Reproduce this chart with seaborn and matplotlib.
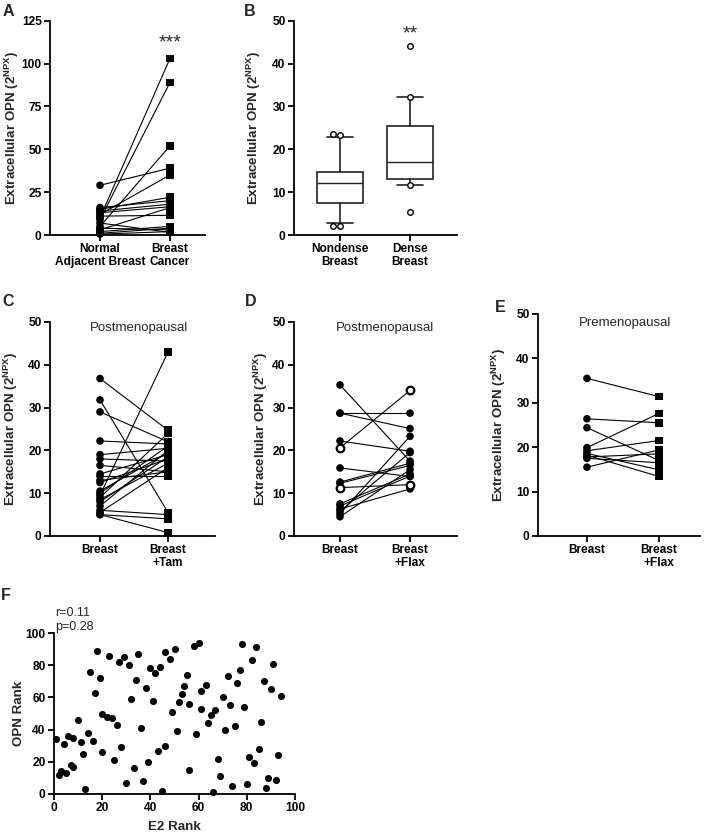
import numpy as np
import pandas as pd
import matplotlib
matplotlib.use("Agg")
import matplotlib.pyplot as plt
import seaborn as sns

# ---------------- data ----------------
# Panel A: paired Normal adjacent breast vs breast cancer
a_groups = ["Normal\nAdjacent Breast", "Breast\nCancer"]
a_normal = [10, 9, 5, 29, 12, 15, 16, 14, 13, 3, 11, 2, 1, 4, 0.5, 7]
a_cancer = [103, 89, 52, 39, 35, 22, 20, 18, 16.5, 16, 11.5, 5, 4, 3, 2, 1.5]

# Panel B: box plot (Prism 10-90 percentile whiskers)
b_groups = ["Nondense\nBreast", "Dense\nBreast"]
b_med = [12.2, 17.0]
b_q1 = [7.5, 13.0]
b_q3 = [14.6, 25.4]
b_whislo = [2.7, 11.7]
b_whishi = [22.8, 32.3]
b_out_nondense = [23.5, 23.3, 2.2, 2.2]
b_out_dense = [44.0, 32.3, 11.7, 5.4]

# Panel C: Postmenopausal Breast vs Breast + Tam
c_groups = ["Breast", "Breast\n+Tam"]
c_breast = [36.8, 31.8, 29, 22.2, 19, 18, 16.5, 14.5, 14, 13, 12.5, 10.5, 10, 9.5, 9, 8.5, 8, 7, 6, 5.5, 5, 5]
c_tam = [24.7, 5.5, 22, 21.5, 20.5, 17.5, 15, 19, 14, 15, 18, 19.5, 21, 43, 24, 17, 18.5, 20, 5, 16, 4, 0.8]

# Panel D: Postmenopausal Breast vs Breast + Flax (open = highlighted subjects)
d_groups = ["Breast", "Breast\n+Flax"]
d_breast = [35.3, 28.7, 28.7, 22.2, 20.6, 15.9, 12.6, 12.3, 11.3, 7.5, 7.0, 6.3, 5.8, 5.2, 4.5]
d_flax = [17.5, 28.7, 25.1, 19.8, 34.0, 13.9, 17.0, 16.5, 12.0, 14.5, 14.0, 11.0, 19.5, 23.3, 15.5]
d_open = [False, False, False, False, True, False, False, False, True, False, False, False, False, False, False]

# Panel E: Premenopausal Breast vs Breast + Flax
e_groups = ["Breast", "Breast\n+Flax"]
e_breast = [35.5, 26.4, 24.4, 19.9, 19.2, 18.6, 18.2, 17.8, 17.5, 15.5]
e_flax = [31.4, 25.5, 17.0, 27.6, 21.5, 14.9, 13.4, 18.5, 16.5, 19.4]

# Panel F: rank correlation
f_e2 = [1, 2, 3, 4, 5, 6, 7, 8, 8, 10, 11, 12, 13, 14, 15, 16, 17, 18, 19, 20, 20, 22, 23, 24, 25,
        26, 27, 28, 29, 30, 31, 32, 33, 34, 35, 36, 37, 38, 39, 40, 41, 42, 43, 44, 45, 46, 46, 48,
        49, 50, 51, 52, 53, 54, 55, 56, 56, 58, 59, 60, 61, 61, 63, 64, 65, 66, 67, 68, 69, 70, 71,
        72, 73, 74, 75, 76, 77, 78, 79, 80, 81, 82, 83, 84, 85, 86, 87, 88, 89, 90, 91, 92, 93, 94]
f_opn = [34, 12, 14, 31, 13, 36, 18, 17, 35, 46, 32, 25, 3, 38, 76, 33, 63, 89, 72, 50, 26, 48, 86,
         47, 21, 43, 82, 29, 85, 7, 80, 59, 16, 71, 87, 41, 8, 66, 20, 78, 58, 75, 27, 79, 2, 88, 30,
         84, 51, 90, 39, 57, 62, 67, 74, 56, 15, 92, 37, 94, 53, 64, 68, 44, 49, 1, 52, 22, 11, 60,
         40, 73, 55, 5, 42, 69, 77, 93, 54, 6, 23, 83, 19, 91, 28, 45, 70, 4, 10, 65, 81, 9, 24, 61]
f_stats = "r=0.11\np=0.28"

ylab = r"Extracellular OPN (2$^{\mathbf{NPX}}$)"

# ---------------- style ----------------
sns.set_theme(style="ticks")
plt.rcParams["font.family"] = ["Liberation Sans", "DejaVu Sans"]
plt.rcParams["font.weight"] = "bold"
plt.rcParams["axes.labelweight"] = "bold"
plt.rcParams["mathtext.fontset"] = "custom"
plt.rcParams["mathtext.rm"] = "Liberation Sans:bold"
plt.rcParams["mathtext.bf"] = "Liberation Sans:bold"
plt.rcParams["mathtext.it"] = "Liberation Sans:bold"

TICK = 8.6
LAB = 9.6

W, H = 710, 834
fig = plt.figure(figsize=(W / 100, H / 100), dpi=100)


def make_ax(x0, y0, x1, y1):
    return fig.add_axes([x0 / W, 1 - y1 / H, (x1 - x0) / W, (y1 - y0) / H])


def style(ax, ylim, yticks, xlim=None, labx=-0.2):
    for s in ["top", "right"]:
        ax.spines[s].set_visible(False)
    for s in ["left", "bottom"]:
        ax.spines[s].set_linewidth(1.3)
        ax.spines[s].set_color("black")
    ax.tick_params(axis="both", width=1.3, length=4, labelsize=TICK, colors="black",
                   direction="out", pad=2)
    ax.set_ylim(*ylim)
    ax.set_yticks(yticks)
    if xlim is not None:
        ax.set_xlim(*xlim)
    for lab in ax.get_xticklabels() + ax.get_yticklabels():
        lab.set_fontweight("bold")
        lab.set_fontsize(TICK)
    ax.yaxis.set_label_coords(labx, 0.5)
    ax.set_facecolor("none")


def paired(ax, v0, v1, groups, m0, m1, open_flags=None):
    n = len(v0)
    df = pd.DataFrame({
        "subject": list(range(n)) * 2,
        "pos": [0] * n + [1] * n,
        "value": list(v0) + list(v1),
        "group": [groups[0]] * n + [groups[1]] * n,
        "open": (list(open_flags) if open_flags else [False] * n) * 2,
    })
    sns.lineplot(data=df, x="pos", y="value", units="subject", estimator=None,
                 color="black", linewidth=0.8, ax=ax, legend=False, zorder=2)
    filled = df[~df["open"]]
    sns.scatterplot(data=filled, x="pos", y="value", style="group",
                    markers={groups[0]: m0, groups[1]: m1}, color="black",
                    edgecolor="black", linewidth=0, s=30, ax=ax, legend=False,
                    clip_on=False, zorder=3)
    hollow = df[df["open"]]
    if len(hollow):
        sns.scatterplot(data=hollow, x="pos", y="value", marker="o", color="white",
                        edgecolor="black", linewidth=1.6, s=30, ax=ax, legend=False,
                        clip_on=False, zorder=4)
    ax.set_xticks([0, 1])
    ax.set_xticklabels(groups, linespacing=1.05)
    ax.set_xlabel("")
    ax.set_ylabel(ylab, fontsize=LAB, fontweight="bold")


# ---------------- Panel A ----------------
axA = make_ax(50, 20.7, 205, 235)
paired(axA, a_normal, a_cancer, a_groups, "o", "s")
style(axA, (0, 125), [0, 25, 50, 75, 100, 125], xlim=(-0.714, 1.5), labx=-0.19)
axA.text(1, 112, "***", ha="center", va="center", fontsize=14, fontweight="normal")

# ---------------- Panel B ----------------
axB = make_ax(294, 20.7, 457, 235)
stats = []
for i in range(2):
    stats.append(dict(med=b_med[i], q1=b_q1[i], q3=b_q3[i], whislo=b_whislo[i],
                      whishi=b_whishi[i], fliers=[], label=b_groups[i]))
axB.bxp(stats, positions=[0, 1], widths=0.66, capwidths=0.38, showfliers=False,
        patch_artist=True,
        boxprops=dict(facecolor="white", edgecolor="#222222", linewidth=1.2),
        medianprops=dict(color="#222222", linewidth=1.0),
        whiskerprops=dict(color="#222222", linewidth=1.2),
        capprops=dict(color="#222222", linewidth=1.2))
out_df = pd.DataFrame({
    "group": [b_groups[0]] * len(b_out_nondense) + [b_groups[1]] * len(b_out_dense),
    "value": b_out_nondense + b_out_dense,
})
sns.swarmplot(data=out_df, x="group", y="value", order=b_groups, color="white",
              edgecolor="black", linewidth=1.0, size=4.0, ax=axB, zorder=5)
axB.set_xticks([0, 1])
axB.set_xticklabels(b_groups, linespacing=1.05)
axB.set_xlabel("")
axB.set_ylabel(ylab, fontsize=LAB, fontweight="bold")
style(axB, (0, 50), [0, 10, 20, 30, 40, 50], xlim=(-0.657, 1.671), labx=-0.19)
axB.text(1, 47, "**", ha="center", va="center", fontsize=14, fontweight="normal")

# ---------------- Panel C ----------------
axC = make_ax(50, 322, 215, 536)
paired(axC, c_breast, c_tam, c_groups, "o", "s")
style(axC, (0, 50), [0, 10, 20, 30, 40, 50], xlim=(-0.735, 1.69), labx=-0.18)
axC.text(0.54, 0.97, "Postmenopausal", transform=axC.transAxes, ha="center",
         va="center", fontsize=9.5, fontweight="normal")

# ---------------- Panel D ----------------
axD = make_ax(294, 322, 457, 536)
paired(axD, d_breast, d_flax, d_groups, "o", "o", open_flags=d_open)
style(axD, (0, 50), [0, 10, 20, 30, 40, 50], xlim=(-0.657, 1.671), labx=-0.15)
axD.text(0.56, 0.97, "Postmenopausal", transform=axD.transAxes, ha="center",
         va="center", fontsize=9.5, fontweight="normal")

# ---------------- Panel E ----------------
axE = make_ax(538, 314, 700, 536)
paired(axE, e_breast, e_flax, e_groups, "o", "s")
style(axE, (0, 50), [0, 10, 20, 30, 40, 50], xlim=(-0.68, 1.57), labx=-0.185)
axE.text(0.54, 0.96, "Premenopausal", transform=axE.transAxes, ha="center",
         va="center", fontsize=9.5, fontweight="normal")

# ---------------- Panel F ----------------
axF = make_ax(54, 633, 295, 794)
f_df = pd.DataFrame({"E2 Rank": f_e2, "OPN Rank": f_opn})
sns.scatterplot(data=f_df, x="E2 Rank", y="OPN Rank", color="black", edgecolor="black",
                linewidth=0, s=26, ax=axF, legend=False, clip_on=False, zorder=3)
axF.set_xticks([0, 20, 40, 60, 80, 100])
axF.set_xlabel("E2 Rank", fontsize=LAB, fontweight="bold", labelpad=5)
axF.set_ylabel("OPN Rank", fontsize=LAB, fontweight="bold")
style(axF, (0, 100), [0, 20, 40, 60, 80, 100], xlim=(0, 100), labx=-0.12)
fig.text(55 / W, 1 - 620 / H, f_stats, ha="left", va="center", fontsize=9,
         fontweight="normal", linespacing=1.15)

# ---------------- panel letters ----------------
for letter, (px, py) in {"A": (8, 12), "B": (250, 12), "C": (8, 302), "D": (251, 302),
                         "E": (500, 307), "F": (6, 595)}.items():
    fig.text(px / W, 1 - py / H, letter, fontsize=11.5, fontweight="bold",
             ha="center", va="center")

fig.savefig("out.png", dpi=100, facecolor="white")
